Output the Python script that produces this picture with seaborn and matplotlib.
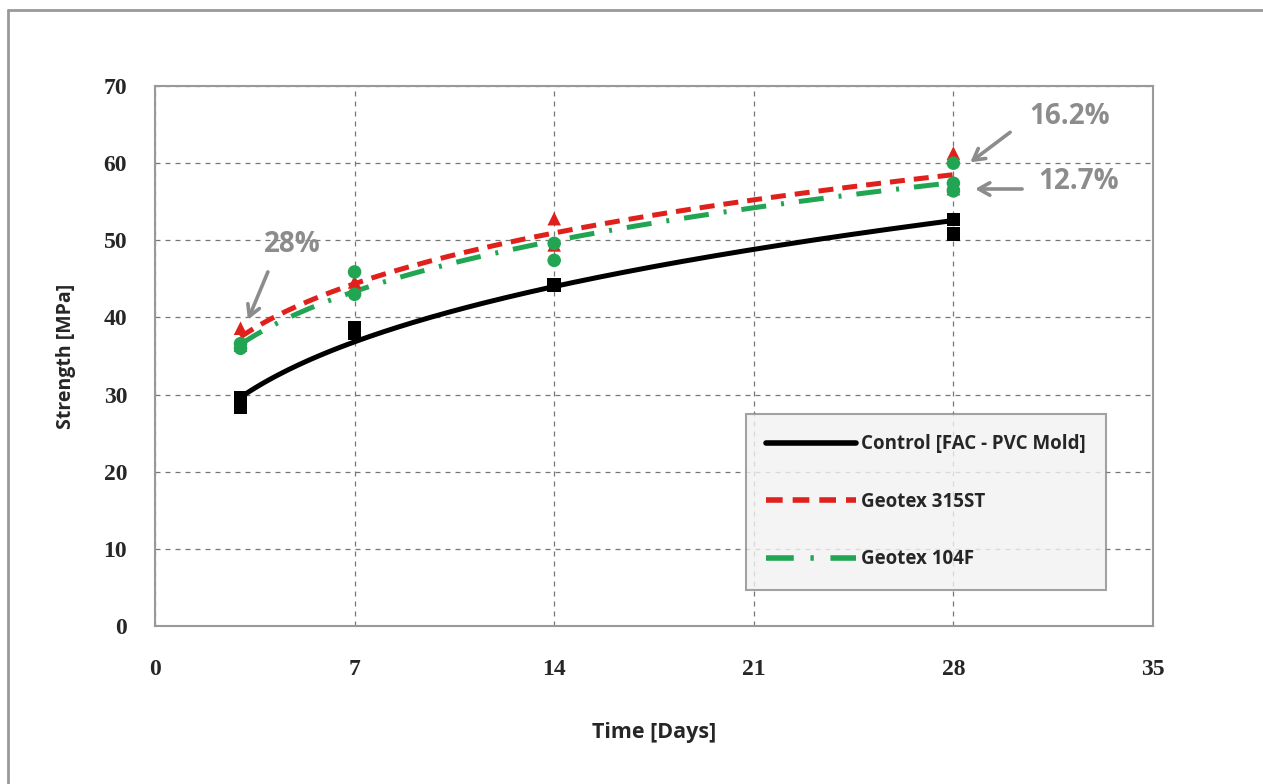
import numpy as np
import pandas as pd
import seaborn as sns
import matplotlib
import matplotlib.pyplot as plt
from matplotlib.lines import Line2D

matplotlib.use('Agg')

control_days = [3, 3, 7, 7, 14, 28, 28]
control_mpa = [29.6, 28.3, 38.6, 37.9, 44.2, 52.7, 50.8]

geo315_days = [3, 3, 7, 7, 14, 14, 28, 28, 28]
geo315_mpa = [38.6, 36.4, 44.0, 44.6, 52.8, 49.4, 61.3, 57.5, 56.7]

geo104_days = [3, 3, 7, 7, 14, 14, 28, 28, 28]
geo104_mpa = [36.0, 36.6, 45.9, 43.0, 47.4, 49.6, 60.0, 57.4, 56.4]

series_names = ['Control [FAC - PVC Mold]', 'Geotex 315ST', 'Geotex 104F']
x_ticks = [0, 7, 14, 21, 28, 35]
y_ticks = [0, 10, 20, 30, 40, 50, 60, 70]

sns.set_style("white")
plt.rcParams['font.family'] = ['Open Sans', 'DejaVu Sans']

df = pd.concat([
    pd.DataFrame({'day': control_days, 'mpa': control_mpa, 'series': series_names[0]}),
    pd.DataFrame({'day': geo315_days, 'mpa': geo315_mpa, 'series': series_names[1]}),
    pd.DataFrame({'day': geo104_days, 'mpa': geo104_mpa, 'series': series_names[2]}),
])

colors = {series_names[0]: 'black', series_names[1]: '#e0201b', series_names[2]: '#22a552'}
markers = {series_names[0]: 's', series_names[1]: '^', series_names[2]: 'o'}
red_dash = (0, (3, 1.8))
green_dash = (0, (5, 3, 0.6, 3))
styles = {series_names[0]: '-', series_names[1]: red_dash, series_names[2]: green_dash}

fig = plt.figure(figsize=(12.63, 7.84), dpi=100)
ax = fig.add_axes([0.1227, 0.2015, 0.7902, 0.6888])

# power trend lines (like an Excel power trendline)
tt = np.linspace(3, 28, 200)
for name in series_names:
    sub = df[df['series'] == name]
    b, ln_a = np.polyfit(np.log(sub['day']), np.log(sub['mpa']), 1)
    ax.plot(tt, np.exp(ln_a) * tt ** b, color=colors[name], linestyle=styles[name],
            linewidth=3.6, zorder=3)

sns.scatterplot(data=df, x='day', y='mpa', hue='series', style='series',
                palette=colors, markers=markers, s=95, edgecolor='none',
                legend=False, ax=ax, zorder=4)

ax.set_xlim(0, 35)
ax.set_ylim(0, 70)
ax.set_xticks(x_ticks)
ax.set_yticks(y_ticks)
ax.set_xticklabels([str(t) for t in x_ticks], family='Liberation Serif', fontsize=17, fontweight='bold')
ax.set_yticklabels([str(t) for t in y_ticks], family='Liberation Serif', fontsize=17, fontweight='bold')
ax.tick_params(axis='x', length=0, pad=24)
ax.tick_params(axis='y', length=0, pad=20)
ax.grid(True, color='#777777', linestyle=(0, (4, 4)), linewidth=0.9)
for side in ['top', 'bottom', 'right', 'left']:
    ax.spines[side].set_color('#999999')
    ax.spines[side].set_linewidth(1.5)

ax.set_xlabel('Time [Days]', fontsize=15.5, fontweight='bold', labelpad=30)
ax.set_ylabel('Strength [MPa]', fontsize=14, fontweight='bold', labelpad=20)

# percentage annotations
grey = '#8c8c8c'
arrow = dict(arrowstyle='->,head_length=0.8,head_width=0.45', color=grey, lw=2.6,
             shrinkA=0, shrinkB=0)
ax.annotate('', xy=(3.26, 39.7), xytext=(3.96, 45.9), arrowprops=arrow)
ax.annotate('', xy=(28.59, 60.1), xytext=(29.99, 64.0), arrowprops=arrow)
ax.annotate('', xy=(28.76, 56.65), xytext=(30.41, 56.65), arrowprops=arrow)
ax.text(4.8, 49.4, '28%', fontsize=20, fontweight='bold', color=grey, ha='center', va='center')
ax.text(32.06, 66.0, '16.2%', fontsize=20, fontweight='bold', color=grey, ha='center', va='center')
ax.text(32.4, 57.6, '12.7%', fontsize=20, fontweight='bold', color=grey, ha='center', va='center')

handles = [
    Line2D([], [], color=colors[series_names[0]], linestyle='-', linewidth=4),
    Line2D([], [], color=colors[series_names[1]], linestyle=red_dash, linewidth=4),
    Line2D([], [], color=colors[series_names[2]], linestyle=green_dash, linewidth=4),
]
leg = ax.legend(handles, series_names, loc='lower right', bbox_to_anchor=(0.953, 0.067),
                prop={'size': 13.5, 'weight': 'bold'}, frameon=True, fancybox=False,
                handlelength=4.8, handletextpad=0.25, labelspacing=2.0, borderpad=1.1,
                borderaxespad=0)
leg.get_frame().set_facecolor('#f2f2f2')
leg.get_frame().set_edgecolor('#8c8c8c')
leg.get_frame().set_linewidth(1.5)
leg.set_zorder(5)

# outer chart frame (only top and left edges visible in the crop)
fig.add_artist(Line2D([8 / 1263, 8 / 1263], [0, 1 - 10 / 784], color='#999999', lw=2,
                      transform=fig.transFigure))
fig.add_artist(Line2D([8 / 1263, 1], [1 - 10 / 784, 1 - 10 / 784], color='#999999', lw=2,
                      transform=fig.transFigure))

fig.savefig('out.png', dpi=100)
